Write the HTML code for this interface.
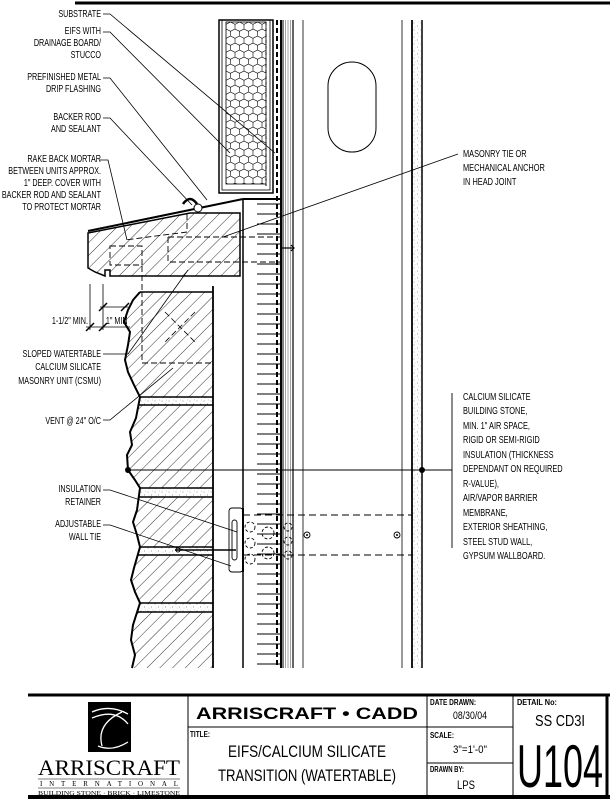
<!DOCTYPE html>
<html><head><meta charset="utf-8"><style>
html,body{margin:0;padding:0;background:#fff;}
svg{display:block;}
text{font-family:"Liberation Sans",Arial,sans-serif;fill:#000;}
</style></head><body>
<svg width="610" height="800" viewBox="0 0 610 800" xmlns="http://www.w3.org/2000/svg">
<defs>
<pattern id="hatch" width="9" height="9" patternUnits="userSpaceOnUse" patternTransform="rotate(45)">
<line x1="0" y1="0" x2="0" y2="9" stroke="#000" stroke-width="0.8"/></pattern>
<pattern id="hex" width="9" height="14" patternUnits="userSpaceOnUse" x="226" y="22">
<path d="M0,2.3 L4.5,0 L9,2.3 M4.5,0 M0,2.3 L0,7 L4.5,9.3 L9,7 L9,2.3 M4.5,9.3 L4.5,14" fill="none" stroke="#000" stroke-width="0.6"/></pattern>
<pattern id="stip" width="7" height="7" patternUnits="userSpaceOnUse">
<rect width="7" height="7" fill="#fff"/><circle cx="1" cy="2" r="0.5" fill="#777"/><circle cx="4.5" cy="5" r="0.5" fill="#777"/><circle cx="5.5" cy="1" r="0.4" fill="#999"/><circle cx="2" cy="6" r="0.4" fill="#999"/></pattern>
<pattern id="vl" width="2.5" height="10" patternUnits="userSpaceOnUse"><line x1="0.5" y1="0" x2="0.5" y2="10" stroke="#444" stroke-width="0.5"/></pattern>
<pattern id="hl" width="40" height="10" patternUnits="userSpaceOnUse" x="243" y="199"><line x1="14" y1="5" x2="38" y2="5" stroke="#000" stroke-width="1"/></pattern>
<clipPath id="stoneClip"><path d="M140,292 L133,300 L128,310 L124,322 L130,332 L128,345 L125,360 L128,372 L134,385 L140,397 L136,418 L130,432 L132,445 L127,455 L128,470 L135,480 L140,488 L137,510 L133,522 L137,535 L140,547 L134,568 L131,580 L135,592 L140,603 L133,625 L131,640 L135,655 L132,668 L213,668 L213,292 Z"/></clipPath>
</defs>

<line x1="75" y1="3" x2="610" y2="3" stroke="#000" stroke-width="3"/>

<path d="M140,292 L133,300 L128,310 L124,322 L130,332 L128,345 L125,360 L128,372 L134,385 L140,397 L136,418 L130,432 L132,445 L127,455 L128,470 L135,480 L140,488 L137,510 L133,522 L137,535 L140,547 L134,568 L131,580 L135,592 L140,603 L133,625 L131,640 L135,655 L132,668 L213,668 L213,292 Z" fill="url(#hatch)" stroke="none"/>
<g clip-path="url(#stoneClip)">
<rect x="120" y="397" width="93" height="8" fill="url(#stip)"/>
<rect x="120" y="488" width="93" height="9" fill="url(#stip)"/>
<rect x="120" y="547" width="93" height="8" fill="url(#stip)"/>
<rect x="120" y="603" width="93" height="9" fill="url(#stip)"/>
<g stroke="#000" stroke-width="1.6">
<line x1="120" y1="397" x2="213" y2="397"/><line x1="120" y1="405" x2="213" y2="405"/>
<line x1="120" y1="488" x2="213" y2="488"/><line x1="120" y1="497" x2="213" y2="497"/>
<line x1="120" y1="547" x2="213" y2="547"/><line x1="120" y1="555" x2="213" y2="555"/>
<line x1="120" y1="603" x2="213" y2="603"/><line x1="120" y1="612" x2="213" y2="612"/>
</g></g>
<polyline points="140,292 133,300 128,310 124,322 130,332 128,345 125,360 128,372 134,385 140,397 136,418 130,432 132,445 127,455 128,470 135,480 140,488 137,510 133,522 137,535 140,547 134,568 131,580 135,592 140,603 133,625 131,640 135,655 132,668" fill="none" stroke="#000" stroke-width="2"/>
<line x1="140" y1="292" x2="213" y2="292" stroke="#000" stroke-width="1.5"/>
<line x1="213" y1="286" x2="213" y2="668" stroke="#000" stroke-width="1.8"/>
<rect x="142" y="292" width="71" height="71" fill="none" stroke="#000" stroke-dasharray="6,3" stroke-width="0.9"/>
<line x1="165" y1="312" x2="195" y2="342" stroke="#000" stroke-dasharray="6,3" stroke-width="0.8"/>
<line x1="195" y1="312" x2="165" y2="342" stroke="#000" stroke-dasharray="6,3" stroke-width="0.8"/>

<path d="M88,233 L190,213 L240,213 L240,276 L110,276 L110,270 L105,270 L105,276 L95,272 L88,268 Z" fill="url(#hatch)" stroke="#000" stroke-width="1.5"/>
<line x1="88" y1="231" x2="243" y2="199" stroke="#000" stroke-width="2"/>
<line x1="243" y1="199" x2="282" y2="199" stroke="#000" stroke-width="2"/>
<path d="M183,204 q7,-10 14,0" fill="none" stroke="#000" stroke-width="2.5"/>
<circle cx="198" cy="208" r="4" fill="#fff" stroke="#000"/>
<g fill="none" stroke="#000" stroke-dasharray="6,3" stroke-width="0.9">
<rect x="110" y="246" width="32" height="19"/>
<path d="M168,237 L280,237 M168,237 L168,262 L280,262"/>
<path d="M187,214 L187,232 L125,240"/>
<line x1="142" y1="266" x2="142" y2="292"/>
</g>

<rect x="243" y="199" width="37" height="469" fill="url(#hl)"/>
<line x1="243" y1="199" x2="243" y2="668" stroke="#000" stroke-width="1.5"/>

<rect x="219" y="20" width="54" height="173" fill="#fff" stroke="#000" stroke-width="1.5"/>
<rect x="222" y="20" width="48" height="170" fill="none" stroke="#000" stroke-width="0.8"/>
<rect x="226" y="22" width="40" height="162" fill="url(#hex)" stroke="#000" stroke-width="0.8"/>
<line x1="266" y1="22" x2="266" y2="186" stroke="#000" stroke-width="1" stroke-dasharray="3,3"/>
<line x1="277" y1="20" x2="277" y2="668" stroke="#000" stroke-width="2" stroke-dasharray="5,3"/>

<rect x="283" y="20" width="10" height="648" fill="url(#vl)"/>
<g stroke="#000">
<line x1="281" y1="20" x2="281" y2="668" stroke-width="2"/>
<line x1="283" y1="20" x2="283" y2="668" stroke-width="1"/>
<line x1="293" y1="20" x2="293" y2="668" stroke-width="1.2"/>
<line x1="303" y1="20" x2="303" y2="668" stroke-width="0.8"/>
<line x1="402" y1="20" x2="402" y2="668" stroke-width="0.8"/>
<line x1="412" y1="20" x2="412" y2="668" stroke-width="1.8"/>
<line x1="422" y1="20" x2="422" y2="668" stroke-width="1.5"/>
</g>
<rect x="413" y="20" width="8" height="648" fill="url(#stip)"/>
<rect x="328" y="62" width="48" height="90" rx="24" ry="24" fill="none" stroke="#000" stroke-width="1"/>
<path d="M281,248 L294,248 M291,245 L294,248 L291,251" fill="none" stroke="#000" stroke-width="1.2"/>

<g fill="none" stroke="#000" stroke-width="0.9">
<path d="M243,515 L412,515 M243,555 L412,555" stroke-dasharray="7,4"/>
<rect x="229" y="508" width="14" height="64" rx="3"/>
<rect x="232" y="520" width="5" height="40" rx="2.5"/>
<line x1="243" y1="508" x2="243" y2="572" stroke-width="2"/>
<line x1="175" y1="550" x2="236" y2="550" stroke-width="1.5"/>
<circle cx="178" cy="550" r="2"/>
<g stroke-dasharray="3,2"><circle cx="250" cy="527" r="5"/><circle cx="250" cy="543" r="5"/><circle cx="250" cy="559" r="5"/><circle cx="268" cy="533" r="6"/><circle cx="268" cy="553" r="6"/><circle cx="288" cy="527" r="4"/><circle cx="288" cy="541" r="4"/><circle cx="288" cy="555" r="4"/></g>
<circle cx="307" cy="535" r="3"/><circle cx="397" cy="535" r="3"/>
</g>
<circle cx="307" cy="535" r="1" fill="#000"/><circle cx="397" cy="535" r="1" fill="#000"/>

<line x1="128" y1="470" x2="452" y2="470" stroke="#000" stroke-width="0.9"/>
<circle cx="128" cy="470" r="3" fill="#000"/><circle cx="422" cy="470" r="3" fill="#000"/>
<line x1="452" y1="393" x2="452" y2="548" stroke="#000" stroke-width="0.9"/>

<g fill="none" stroke="#000" stroke-width="0.8">
<polyline points="103,14 110,14 275,153"/>
<polyline points="103,32 110,32 230,153"/>
<polyline points="103,78 110,78 207,200"/>
<polyline points="103,118 110,118 192,205"/>
<polyline points="100,160 108,160 127,240"/>
<polyline points="458,154 223,237"/>
<polyline points="103,354 128,354 188,270"/>
<polyline points="103,420 110,420 173,368"/>
<polyline points="103,490 110,490 237,532"/>
<polyline points="103,525 110,525 231,566"/>
<line x1="90" y1="284" x2="90" y2="330"/><line x1="103" y1="284" x2="103" y2="330"/>
<line x1="86" y1="327" x2="130" y2="327"/>
<line x1="100" y1="307" x2="128" y2="307"/>
<line x1="86" y1="331" x2="94" y2="323" stroke-width="1.5"/><line x1="99" y1="331" x2="107" y2="323" stroke-width="1.5"/>
<line x1="99" y1="311" x2="107" y2="303" stroke-width="1.5"/><line x1="121" y1="311" x2="129" y2="303" stroke-width="1.5"/>
</g>

<g font-size="10" text-anchor="end" transform="translate(101,0) scale(0.72,1)">
<text x="0" y="17">SUBSTRATE</text>
<text x="0" y="34">EIFS WITH</text><text x="0" y="46">DRAINAGE BOARD/</text><text x="0" y="58">STUCCO</text>
<text x="0" y="80">PREFINISHED METAL</text><text x="0" y="92">DRIP FLASHING</text>
<text x="0" y="120">BACKER ROD</text><text x="0" y="132">AND SEALANT</text>
<text x="0" y="162">RAKE BACK MORTAR</text><text x="0" y="174">BETWEEN UNITS APPROX.</text><text x="0" y="186">1" DEEP.  COVER WITH</text><text x="0" y="198">BACKER ROD AND SEALANT</text><text x="0" y="210">TO PROTECT MORTAR</text>
<text x="0" y="357">SLOPED WATERTABLE</text><text x="0" y="370">CALCIUM SILICATE</text><text x="0" y="384">MASONRY UNIT (CSMU)</text>
<text x="0" y="424">VENT @ 24" O/C</text>
<text x="0" y="492">INSULATION</text><text x="0" y="505">RETAINER</text>
<text x="0" y="527">ADJUSTABLE</text><text x="0" y="540">WALL TIE</text>
</g>
<g font-size="10" transform="scale(0.72,1)">
<text x="72" y="324">1-1/2" MIN.</text>
<text x="147" y="324">1" MIN</text>
</g>
<g font-size="10" transform="translate(463,0) scale(0.74,1)">
<text x="0" y="157">MASONRY TIE OR</text><text x="0" y="171">MECHANICAL ANCHOR</text><text x="0" y="185">IN HEAD JOINT</text>
<text x="0" y="400">CALCIUM SILICATE</text><text x="0" y="414">BUILDING STONE,</text><text x="0" y="429">MIN. 1" AIR SPACE,</text><text x="0" y="443">RIGID OR SEMI-RIGID</text><text x="0" y="458">INSULATION (THICKNESS</text><text x="0" y="472">DEPENDANT ON REQUIRED</text><text x="0" y="487">R-VALUE),</text><text x="0" y="501">AIR/VAPOR BARRIER</text><text x="0" y="516">MEMBRANE,</text><text x="0" y="530">EXTERIOR SHEATHING,</text><text x="0" y="545">STEEL STUD WALL,</text><text x="0" y="559">GYPSUM WALLBOARD.</text>
</g>

<g stroke="#000">
<line x1="28" y1="695" x2="610" y2="695" stroke-width="3"/>
<line x1="28" y1="797" x2="610" y2="797" stroke-width="4"/>
<line x1="607" y1="695" x2="607" y2="799" stroke-width="3"/>
<line x1="188" y1="695" x2="188" y2="797" stroke-width="1"/>
<line x1="427" y1="695" x2="427" y2="797" stroke-width="1"/>
<line x1="513" y1="695" x2="513" y2="797" stroke-width="1"/>
<line x1="188" y1="727" x2="427" y2="727" stroke-width="1"/>
<line x1="427" y1="727" x2="513" y2="727" stroke-width="1"/>
<line x1="427" y1="763" x2="513" y2="763" stroke-width="1"/>
</g>
<rect x="88" y="702" width="43" height="50" fill="#000"/>
<path d="M92,712 Q110,704 128,714 M92,718 Q115,708 128,724 M122,712 Q96,724 102,746 M98,746 Q112,752 128,742" fill="none" stroke="#fff" stroke-width="1.3"/>
<text x="109" y="775" font-size="22" text-anchor="middle" style="font-family:'Liberation Serif',serif" textLength="142" lengthAdjust="spacingAndGlyphs">ARRISCRAFT</text>
<line x1="38" y1="779" x2="180" y2="779" stroke="#000" stroke-width="0.6"/>
<text x="109" y="786" font-size="7" text-anchor="middle" textLength="138" style="font-family:'Liberation Serif',serif">INTERNATIONAL</text>
<line x1="38" y1="788" x2="180" y2="788" stroke="#000" stroke-width="0.6"/>
<text x="109" y="795" font-size="6.5" text-anchor="middle" textLength="142" lengthAdjust="spacingAndGlyphs" style="font-family:'Liberation Serif',serif">BUILDING STONE · BRICK · LIMESTONE</text>

<text x="307" y="719" font-size="17" font-weight="bold" text-anchor="middle" textLength="222" lengthAdjust="spacingAndGlyphs">ARRISCRAFT • CADD</text>
<text x="190" y="737" font-size="8" font-weight="bold" textLength="20" lengthAdjust="spacingAndGlyphs">TITLE:</text>
<text x="307" y="757" font-size="17" text-anchor="middle" textLength="158" lengthAdjust="spacingAndGlyphs">EIFS/CALCIUM SILICATE</text>
<text x="307" y="781" font-size="17" text-anchor="middle" textLength="178" lengthAdjust="spacingAndGlyphs">TRANSITION (WATERTABLE)</text>
<text x="430" y="705" font-size="8" font-weight="bold" textLength="46" lengthAdjust="spacingAndGlyphs">DATE DRAWN:</text>
<text x="470" y="719" font-size="11" text-anchor="middle" textLength="34" lengthAdjust="spacingAndGlyphs">08/30/04</text>
<text x="430" y="738" font-size="8" font-weight="bold" textLength="24" lengthAdjust="spacingAndGlyphs">SCALE:</text>
<text x="470" y="753" font-size="11" text-anchor="middle" textLength="34" lengthAdjust="spacingAndGlyphs">3"=1'-0"</text>
<text x="430" y="772" font-size="8" font-weight="bold" textLength="34" lengthAdjust="spacingAndGlyphs">DRAWN BY:</text>
<text x="466" y="789" font-size="12" text-anchor="middle" textLength="18" lengthAdjust="spacingAndGlyphs">LPS</text>
<text x="517" y="705" font-size="8" font-weight="bold" textLength="40" lengthAdjust="spacingAndGlyphs">DETAIL No:</text>
<text x="560" y="726" font-size="16" text-anchor="middle" textLength="50" lengthAdjust="spacingAndGlyphs">SS CD3I</text>
<text x="560" y="787" font-size="60" text-anchor="middle" textLength="86" lengthAdjust="spacingAndGlyphs">U104</text>
</svg>
</body></html>
